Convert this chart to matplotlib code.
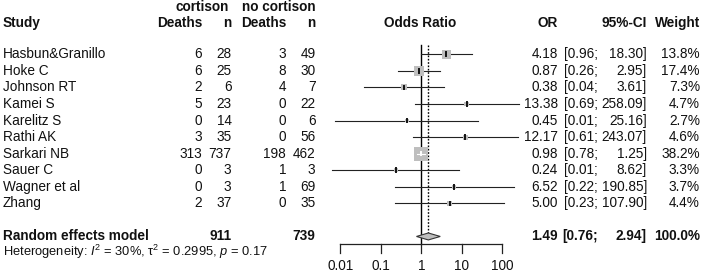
import matplotlib
matplotlib.use("Agg")
import matplotlib.pyplot as plt
from matplotlib.patches import Polygon
import numpy as np

plt.rcParams['font.family'] = ['Liberation Sans', 'DejaVu Sans']
plt.rcParams['mathtext.fontset'] = 'custom'
plt.rcParams['mathtext.rm'] = 'Liberation Sans'
plt.rcParams['mathtext.it'] = 'Liberation Sans:italic'
plt.rcParams['mathtext.bf'] = 'Liberation Sans:bold'

# ---------------- data ----------------
studies = ["Hasbun&Granillo", "Hoke C", "Johnson RT", "Kamei S", "Karelitz S",
           "Rathi AK", "Sarkari NB", "Sauer C", "Wagner et al", "Zhang"]
deaths_cort = [6, 6, 2, 5, 0, 3, 313, 0, 0, 2]
n_cort = [28, 25, 6, 23, 14, 35, 737, 3, 3, 37]
deaths_nocort = [3, 8, 4, 0, 0, 0, 198, 1, 1, 0]
n_nocort = [49, 30, 7, 22, 6, 56, 462, 3, 69, 35]
odds_ratio = [4.18, 0.87, 0.38, 13.38, 0.45, 12.17, 0.98, 0.24, 6.52, 5.00]
ci_lower = [0.96, 0.26, 0.038, 0.69, 0.0074, 0.61, 0.78, 0.0062, 0.22, 0.23]
ci_upper = [18.30, 2.95, 3.61, 258.09, 25.16, 243.07, 1.25, 8.62, 190.85, 107.90]
weights = [13.8, 17.4, 7.3, 4.7, 2.7, 4.6, 38.2, 3.3, 3.7, 4.4]

group_labels = ["cortison", "no cortison"]
summary_label = "Random effects model"
summary_n = [911, 739]
summary_or = 1.49
summary_lower = 0.76
summary_upper = 2.94
summary_weight = 100.0
heterogeneity = r"Heterogeneity: $\mathit{I}^{2}$ = 30%, $\mathrm{\tau}^{2}$ = 0.2995, $\mathit{p}$ = 0.17"
axis_ticks = [0.01, 0.1, 1, 10, 100]
axis_ticklabels = ["0.01", "0.1", "1", "10", "100"]

# ---------------- layout ----------------
W, H = 708, 280
fig = plt.figure(figsize=(W / 100, H / 100), dpi=100)
fig.patch.set_facecolor('white')

row0_px = 54.3
row_h = 16.56
ytop = -row0_px / row_h
ybot = (H - row0_px) / row_h

tx = fig.add_axes([0, 0, 1, 1])
tx.set_xlim(0, W)
tx.set_ylim(ybot, ytop)
tx.axis('off')

px_per_dec = 40.5
x_one = 421.3
half_dec = 2.6
fx_left = x_one - half_dec * px_per_dec
fx = fig.add_axes([fx_left / W, 0, 2 * half_dec * px_per_dec / W, 1])
fx.set_xscale('log')
fx.set_xlim(10 ** -half_dec, 10 ** half_dec)
fx.set_ylim(ybot, ytop)
fx.axis('off')
fx.patch.set_alpha(0)

fs = 9.8
tc = '#111111'

c_d1, c_n1, c_d2, c_n2 = 202, 231.5, 286, 315.5

# headers
hr1, hr2 = -2.86, -1.87
tx.text(229, hr1, group_labels[0], ha='right', va='center', fontsize=fs, fontweight='bold', color=tc)
tx.text(c_n2, hr1, group_labels[1], ha='right', va='center', fontsize=fs, fontweight='bold', color=tc)
tx.text(3, hr2, "Study", ha='left', va='center', fontsize=fs, fontweight='bold', color=tc)
tx.text(c_d1, hr2, "Deaths", ha='right', va='center', fontsize=fs, fontweight='bold', color=tc)
tx.text(c_n1, hr2, "n", ha='right', va='center', fontsize=fs, fontweight='bold', color=tc)
tx.text(c_d2, hr2, "Deaths", ha='right', va='center', fontsize=fs, fontweight='bold', color=tc)
tx.text(c_n2, hr2, "n", ha='right', va='center', fontsize=fs, fontweight='bold', color=tc)
tx.text(420, hr2, "Odds Ratio", ha='center', va='center', fontsize=fs, fontweight='bold', color=tc)
tx.text(558, hr2, "OR", ha='right', va='center', fontsize=fs, fontweight='bold', color=tc)
tx.text(647, hr2, "95%-CI", ha='right', va='center', fontsize=fs, fontweight='bold', color=tc)
tx.text(700, hr2, "Weight", ha='right', va='center', fontsize=fs, fontweight='bold', color=tc)

# study rows
for i, s in enumerate(studies):
    tx.text(3, i, s, ha='left', va='center', fontsize=fs, color=tc)
    tx.text(c_d1, i, str(deaths_cort[i]), ha='right', va='center', fontsize=fs, color=tc)
    tx.text(c_n1, i, str(n_cort[i]), ha='right', va='center', fontsize=fs, color=tc)
    tx.text(c_d2, i, str(deaths_nocort[i]), ha='right', va='center', fontsize=fs, color=tc)
    tx.text(c_n2, i, str(n_nocort[i]), ha='right', va='center', fontsize=fs, color=tc)
    tx.text(558, i, f"{odds_ratio[i]:.2f}", ha='right', va='center', fontsize=fs, color=tc)
    tx.text(598, i, f"[{ci_lower[i]:.2f};", ha='right', va='center', fontsize=fs, color=tc)
    tx.text(647, i, f"{ci_upper[i]:.2f}]", ha='right', va='center', fontsize=fs, color=tc)
    tx.text(700, i, f"{weights[i]:.1f}%", ha='right', va='center', fontsize=fs, color=tc)

# summary row
sr = len(studies) + 1
tx.text(3, sr, summary_label, ha='left', va='center', fontsize=fs, fontweight='bold', color=tc)
tx.text(c_n1, sr, str(summary_n[0]), ha='right', va='center', fontsize=fs, fontweight='bold', color=tc)
tx.text(c_n2, sr, str(summary_n[1]), ha='right', va='center', fontsize=fs, fontweight='bold', color=tc)
tx.text(558, sr, f"{summary_or:.2f}", ha='right', va='center', fontsize=fs, fontweight='bold', color=tc)
tx.text(598, sr, f"[{summary_lower:.2f};", ha='right', va='center', fontsize=fs, fontweight='bold', color=tc)
tx.text(647, sr, f"{summary_upper:.2f}]", ha='right', va='center', fontsize=fs, fontweight='bold', color=tc)
tx.text(700, sr, f"{summary_weight:.1f}%", ha='right', va='center', fontsize=fs, fontweight='bold', color=tc)
tx.text(3, sr + 0.95, heterogeneity, ha='left', va='center', fontsize=9.3, color=tc)

# ---------------- forest ----------------
line_top = -0.57
axis_y = 11.45
tick_end = 11.99
# reference line at 1
fx.plot([1, 1], [line_top, axis_y], color='black', lw=1.0, zorder=2)
# dotted summary line
diam_h = 0.21
fx.plot([summary_or, summary_or], [line_top, sr - diam_h], color='black', lw=1.0,
        linestyle=(0, (1.2, 1.2)), zorder=2)

max_side_px = 14.0
for i in range(len(studies)):
    fx.plot([ci_lower[i], ci_upper[i]], [i, i], color='#222222', lw=0.8, zorder=3)
    side_px = max_side_px * np.sqrt(weights[i] / max(weights))
    side_pt = side_px * 72 / 100
    fx.scatter([odds_ratio[i]], [i], marker='s', s=side_pt ** 2, color='#bebebe',
               edgecolors='none', zorder=4)
    ci_px = (np.log10(ci_upper[i]) - np.log10(ci_lower[i])) * px_per_dec
    inside = ci_px < side_px
    col = 'white' if inside else '#111111'
    if inside:
        fx.plot([ci_lower[i], ci_upper[i]], [i, i], color='white', lw=0.8, zorder=5)
    fx.plot([odds_ratio[i], odds_ratio[i]], [i - 0.11, i + 0.11], color=col, lw=1.4, zorder=5)

# diamond
diamond = Polygon([[summary_lower, sr], [summary_or, sr - diam_h], [summary_upper, sr],
                   [summary_or, sr + diam_h]], closed=True, facecolor='#bebebe',
                  edgecolor='#333333', lw=0.8, zorder=6)
fx.add_patch(diamond)

# x axis drawn manually
fx.plot([axis_ticks[0], axis_ticks[-1]], [axis_y, axis_y], color='#222222', lw=0.9, zorder=2)
for t, lab in zip(axis_ticks, axis_ticklabels):
    fx.plot([t, t], [axis_y, tick_end], color='#222222', lw=0.9, zorder=2)
    fx.text(t, 12.77, lab, ha='center', va='center', fontsize=fs, color=tc)

fig.savefig("out.png", dpi=100, facecolor='white')
